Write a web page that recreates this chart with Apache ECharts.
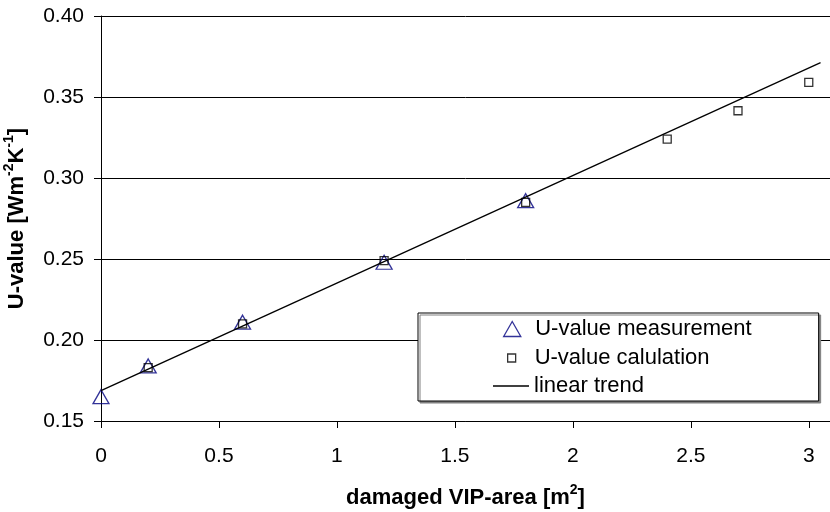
<!DOCTYPE html>
<html>
<head>
<meta charset="utf-8">
<script src="https://cdn.jsdelivr.net/npm/echarts@6/dist/echarts.min.js"></script>
<style>
  html, body { margin: 0; padding: 0; background: #fff; }
  #chart { width: 830px; height: 512px; }
</style>
</head>
<body>
<div id="chart"></div>
<script>
// measured U-values (triangles)
var measX = [0, 0.2, 0.6, 1.2, 1.8]
var measY = [0.165, 0.184, 0.211, 0.248, 0.286]
// calculated U-values (squares)
var calcX = [0.2, 0.6, 1.2, 1.8, 2.4, 2.7, 3.0]
var calcY = [0.183, 0.210, 0.249, 0.285, 0.324, 0.3415, 0.359]
// linear trend end points
var trendX = [0, 3.05]
var trendY = [0.1687, 0.3712]
var xTicks = [0, 0.5, 1, 1.5, 2, 2.5, 3]

var font = 'Liberation Sans, Arial, sans-serif'

function pairs (xs, ys) {
  return xs.map(function (x, i) { return [x, ys[i]] })
}

// bold axis title with raised superscripts
var titleStyle = {
  color: '#000',
  fontSize: 22,
  fontWeight: 'bold',
  fontFamily: font,
  lineHeight: 30,
  rich: {
    sup: { fontSize: 14, lineHeight: 14, fontWeight: 'bold', verticalAlign: 'top', fontFamily: font, color: '#000' }
  }
}

var myChart = echarts.init(document.getElementById('chart'))
myChart.setOption({
  animation: false,
  textStyle: { fontFamily: font },
  grid: { left: 101, top: 16, right: 0, bottom: 91, outerBoundsMode: 'none', containLabel: false },
  xAxis: {
    type: 'value',
    min: 0,
    max: 3.09,
    name: 'damaged VIP-area [m{sup|2}]',
    nameLocation: 'middle',
    nameGap: 62,
    nameTextStyle: titleStyle,
    axisLine: { lineStyle: { color: '#000', width: 1 } },
    axisTick: { show: true, length: 7, lineStyle: { color: '#000' }, customValues: xTicks },
    axisLabel: { color: '#000', fontSize: 21, margin: 25, fontFamily: font, customValues: xTicks },
    splitLine: { show: false }
  },
  yAxis: {
    type: 'value',
    min: 0.15,
    max: 0.40,
    interval: 0.05,
    name: 'U-value [Wm{sup|-2}K{sup|-1}]',
    nameLocation: 'middle',
    nameGap: 69,
    nameTextStyle: titleStyle,
    axisLine: { show: true, lineStyle: { color: '#000', width: 1 } },
    axisTick: { show: true, length: 7, lineStyle: { color: '#000' } },
    axisLabel: {
      color: '#000', fontSize: 21, margin: 17, fontFamily: font,
      formatter: function (v) { return v.toFixed(2) }
    },
    splitLine: { show: true, lineStyle: { color: '#000', width: 1 } }
  },
  legend: [
    {
      left: 418,
      top: 313,
      padding: [5, 67, 61, 85],
      itemWidth: 36,
      itemHeight: 15,
      backgroundColor: '#fff',
      borderColor: '#000',
      borderWidth: 1,
      shadowColor: '#808080',
      shadowOffsetX: 2,
      shadowOffsetY: 2,
      shadowBlur: 0,
      z: 5,
      selectedMode: false,
      textStyle: { color: '#000', fontSize: 22, fontFamily: font },
      data: [{
        name: 'U-value measurement',
        icon: 'path://M8,0 L16,14 L0,14 Z',
        itemStyle: { color: 'transparent', borderColor: '#000080', borderWidth: 1.3 }
      }]
    },
    {
      left: 507,
      top: 347,
      padding: 0,
      itemWidth: 36,
      itemHeight: 8,
      z: 6,
      selectedMode: false,
      textStyle: { color: '#000', fontSize: 22, fontFamily: font },
      data: [{
        name: 'U-value calulation',
        icon: 'path://M0,0 H8 V8 H0 Z',
        itemStyle: { color: 'transparent', borderColor: '#000', borderWidth: 1.3 }
      }]
    },
    {
      left: 493,
      top: 375,
      padding: 0,
      itemWidth: 36,
      itemHeight: 14,
      z: 6,
      selectedMode: false,
      textStyle: { color: '#000', fontSize: 22, fontFamily: font },
      data: [{
        name: 'linear trend',
        icon: 'path://M0,0 H36 V1.3 H0 Z',
        itemStyle: { color: '#000', borderWidth: 0 }
      }]
    }
  ],
  series: [
    {
      name: 'U-value measurement',
      type: 'scatter',
      symbol: 'triangle',
      symbolSize: [16, 14],
      itemStyle: { color: 'transparent', borderColor: '#000080', borderWidth: 1.3 },
      data: pairs(measX, measY)
    },
    {
      name: 'U-value calulation',
      type: 'scatter',
      symbol: 'rect',
      symbolSize: 8,
      itemStyle: { color: 'transparent', borderColor: '#000', borderWidth: 1.3 },
      data: pairs(calcX, calcY)
    },
    {
      name: 'linear trend',
      type: 'line',
      symbol: 'none',
      showSymbol: false,
      lineStyle: { color: '#000', width: 1.3 },
      itemStyle: { color: '#000' },
      data: pairs(trendX, trendY)
    }
  ]
})
</script>
</body>
</html>
